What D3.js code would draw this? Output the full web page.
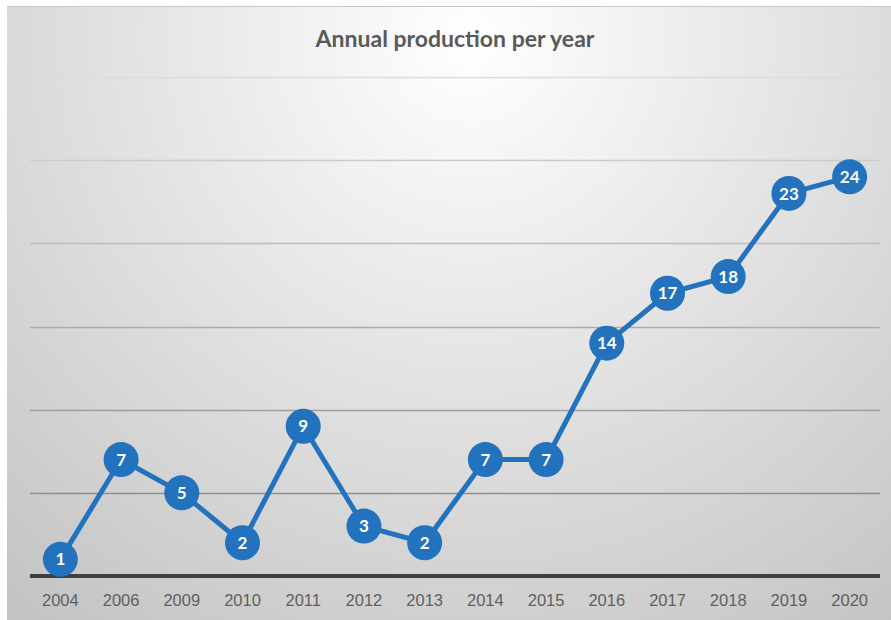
<!DOCTYPE html>
<html>
<head>
<meta charset="utf-8">
<script src="https://cdn.jsdelivr.net/npm/d3@7"></script>
<style>
  body { margin: 0; background: #fff; }
  svg { display: block; font-family: Lato, "Open Sans", sans-serif; }
</style>
</head>
<body>
<div id="chart"></div>
<script>
const years = ['2004', '2006', '2009', '2010', '2011', '2012', '2013', '2014', '2015', '2016', '2017', '2018', '2019', '2020'];
const production = [1, 7, 5, 2, 9, 3, 2, 7, 7, 14, 17, 18, 23, 24];
const gridTicks = [5, 10, 15, 20, 25, 30];

const width = 891;
const height = 620;
const margin = { top: 77, right: 11, bottom: 44, left: 30 };

const svg = d3.select('#chart')
  .append('svg')
  .attr('width', width)
  .attr('height', height);

const defs = svg.append('defs');
const bg = defs.append('radialGradient')
  .attr('id', 'bg')
  .attr('gradientUnits', 'userSpaceOnUse')
  .attr('cx', 470).attr('cy', 40).attr('r', 720);
bg.append('stop').attr('offset', '0%').attr('stop-color', '#ffffff');
bg.append('stop').attr('offset', '100%').attr('stop-color', '#c4c4c4');

// chart area
svg.append('rect')
  .attr('x', 7).attr('y', 7)
  .attr('width', width - 7).attr('height', height - 7)
  .attr('fill', 'url(#bg)');
svg.append('line')
  .attr('x1', 7).attr('x2', width)
  .attr('y1', 6.5).attr('y2', 6.5)
  .attr('stroke', '#c8c8c8').attr('stroke-width', 1);

const x = d3.scaleBand()
  .domain(years)
  .range([margin.left, width - margin.right]);

const y = d3.scaleLinear()
  .domain([0, 30])
  .range([height - margin.bottom, margin.top]);

const gridColor = d3.scaleLinear()
  .domain([5, 30])
  .range(['#8e8e8e', '#dcdcdc']);

svg.append('g')
  .selectAll('line')
  .data(gridTicks)
  .join('line')
  .attr('x1', margin.left)
  .attr('x2', width - margin.right)
  .attr('y1', d => Math.round(y(d)) + 0.5)
  .attr('y2', d => Math.round(y(d)) + 0.5)
  .attr('stroke', d => gridColor(d))
  .attr('stroke-width', 1.3);

// baseline
svg.append('line')
  .attr('x1', margin.left)
  .attr('x2', width - margin.right)
  .attr('y1', y(0))
  .attr('y2', y(0))
  .attr('stroke', '#3f3f3f')
  .attr('stroke-width', 4);

// x axis labels
const xAxis = svg.append('g')
  .attr('transform', `translate(0,${y(0)})`)
  .call(d3.axisBottom(x).tickSize(0).tickPadding(18));
xAxis.select('.domain').remove();
xAxis.selectAll('text')
  .attr('fill', '#5f5f5f')
  .style('font-size', '16.5px');

// title
svg.append('text')
  .attr('x', 455)
  .attr('y', 47)
  .attr('text-anchor', 'middle')
  .attr('fill', '#595959')
  .style('font-size', '23px')
  .style('font-weight', 'bold')
  .text('Annual production per year');

const line = d3.line()
  .x((d, i) => x(years[i]) + x.bandwidth() / 2)
  .y(d => y(d));

svg.append('path')
  .datum(production)
  .attr('d', line)
  .attr('fill', 'none')
  .attr('stroke', '#2372bd')
  .attr('stroke-width', 5)
  .attr('stroke-linejoin', 'round');

const points = svg.append('g')
  .selectAll('g')
  .data(production)
  .join('g')
  .attr('transform', (d, i) => `translate(${x(years[i]) + x.bandwidth() / 2},${y(d)})`);

points.append('circle')
  .attr('r', 17.5)
  .attr('fill', '#2372bd');

points.append('text')
  .attr('text-anchor', 'middle')
  .attr('dy', '0.36em')
  .attr('fill', '#fff')
  .style('font-size', '17px')
  .style('font-weight', 'bold')
  .text(d => d);
</script>
</body>
</html>
